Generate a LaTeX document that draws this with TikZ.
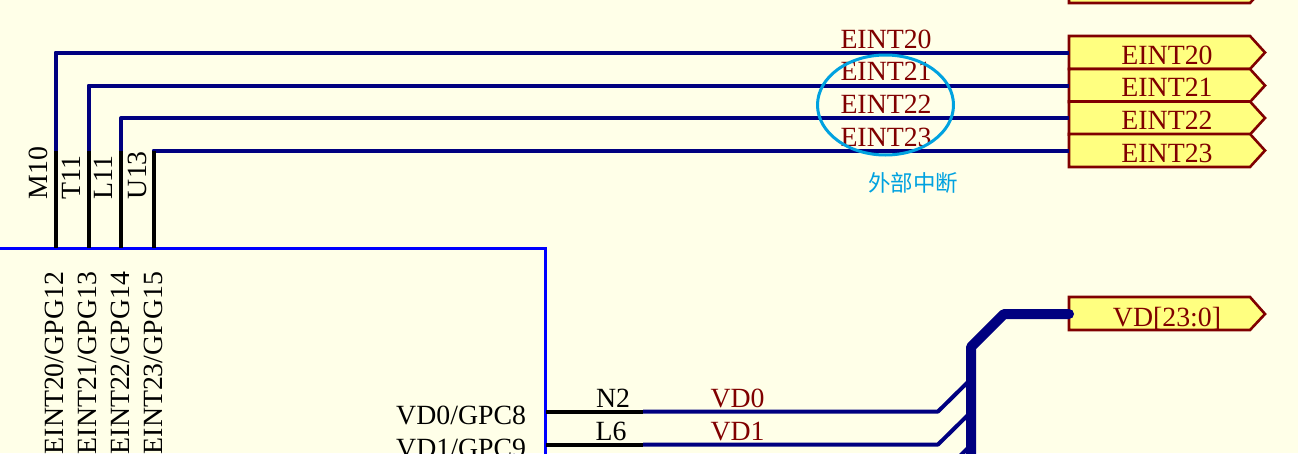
\documentclass[tikz,border=0pt]{standalone}
\usepackage{fontspec}
\setmainfont{Liberation Serif}
\newfontfamily\cjkfont{Noto Sans CJK SC}
\definecolor{bgc}{HTML}{FFFFE8}
\definecolor{wirec}{HTML}{000080}
\definecolor{boxc}{HTML}{0000FF}
\definecolor{redc}{HTML}{800000}
\definecolor{portc}{HTML}{FFFF80}
\definecolor{notec}{HTML}{00A2E0}
\tikzset{
  x=1pt,y=-1pt,
  every node/.style={inner sep=0pt,outer sep=0pt,font=\fontsize{27.8}{27.8}\selectfont},
  wire/.style={draw=wirec,line width=4pt,line join=round},
  pinline/.style={draw=black,line width=4pt},
  bus/.style={draw=wirec,line width=10pt,line cap=round,line join=round},
  chipbox/.style={draw=boxc,line width=3pt},
  portshape/.style={draw=redc,fill=portc,line width=2.6pt,line join=miter},
  netlabel/.style={text=redc,anchor=base west},
  pintext/.style={text=black,anchor=base},
  pinname/.style={text=black,anchor=base west,rotate=90},
  pindes/.style={text=black,anchor=base east,rotate=90},
  sidename/.style={text=black,anchor=base east},
  porttext/.style={text=redc,anchor=base},
  note/.style={draw=notec,line width=3pt}
}
\newcommand{\portat}[2]{% name, top y (height 33)
  \path[portshape] (1069,#2) -- (1250,#2) -- (1265,#2+16.5) -- (1250,#2+33) -- (1069,#2+33) -- cycle;
  \coordinate (#1) at (1069,#2+16.5);
}
\begin{document}
\begin{tikzpicture}
\useasboundingbox (0,0) rectangle (1298,453);
\clip (0,0) rectangle (1298,453);
\fill[bgc] (0,0) rectangle (1298,453);

% chip outline
\path[chipbox] (-5,248.5) -- (545.5,248.5) -- (545.5,460);

% ports
\portat{ptop}{-30}
\portat{p20}{36}
\portat{p21}{69}
\portat{p22}{101.5}
\portat{p23}{134}
\path[portshape] (1069,297) -- (1250,297) -- (1265,314) -- (1250,330) -- (1069,330) -- cycle;
\coordinate (pvd) at (1069,314);

% pin anchors on chip
\coordinate (c20) at (55.5,248);
\coordinate (c21) at (88.5,248);
\coordinate (c22) at (121,248);
\coordinate (c23) at (153.5,248);
\coordinate (e20) at (55.5,151);
\coordinate (e21) at (88.5,151);
\coordinate (e22) at (121,151);
\coordinate (e23) at (153.5,151);

% wires EINT
\draw[wire] (e20) |- (p20);
\draw[wire] (e21) |- (p21);
\draw[wire] (e22) |- (p22);
\draw[wire] (e23) |- (p23);
\draw[pinline] (c20) -- (e20);
\draw[pinline] (c21) -- (e21);
\draw[pinline] (c22) -- (e22);
\draw[pinline] (c23) -- (e23);

% VD wires
\coordinate (c0) at (546,411.5);
\coordinate (c1) at (546,444.5);
\coordinate (m0) at (643,411.5);
\coordinate (m1) at (643,444.5);
\coordinate (b0) at (970,380);
\coordinate (b1) at (970,413);
\coordinate (b2) at (970,446);
\coordinate (b2e) at (955,461);
\draw[wire] (m0) -- (938,411.5) -- (b0);
\draw[wire] (m1) -- (938,444.5) -- (b1);
\draw[wire] (b2) -- (b2e);
\draw[pinline] (c0) -- (m0);
\draw[pinline] (c1) -- (m1);

% bus
\coordinate (busend) at (971,470);
\draw[bus] (pvd) -- (1004,314) -- (971,347) -- (busend);

% pin labels
\node[pinname] (nM10) at (47,199) {M10};
\node[pinname] (nT11) at (80,199) {T11};
\node[pinname] (nL11) at (112,199) {L11};
\node[pinname] (nU13) at (146,199) {U13};
\node[pindes] (d20) at (63,272) {EINT20/GPG12};
\node[pindes] (d21) at (96,272) {EINT21/GPG13};
\node[pindes] (d22) at (129,272) {EINT22/GPG14};
\node[pindes] (d23) at (162,272) {EINT23/GPG15};
\node[sidename] (s0) at (526,424) {VD0/GPC8};
\node[sidename] (s1) at (526,457) {VD1/GPC9};
\node[pintext] (tN2) at (613,407) {N2};
\node[pintext] (tL6) at (611,440) {L6};

% net labels
\node[netlabel] (l0) at (710.5,407) {VD0};
\node[netlabel] (l1) at (710.5,440) {VD1};
\node[netlabel] (l20) at (840.5,48) {EINT20};
\node[netlabel] (l21) at (840.5,80.5) {EINT21};
\node[netlabel] (l22) at (840.5,113.5) {EINT22};
\node[netlabel] (l23) at (840.5,146) {EINT23};

% port labels
\node[porttext] (t20) at (1167,64) {EINT20};
\node[porttext] (t21) at (1167,96.5) {EINT21};
\node[porttext] (t22) at (1167,129) {EINT22};
\node[porttext] (t23) at (1167,162) {EINT23};
\node[porttext] (tvd) at (1167,326) {VD[23:0]};

% annotation
\draw[note] (885.5,105) ellipse [x radius=68,y radius=50];
\node[text=notec,font=\cjkfont\fontsize{22.5}{22.5}\selectfont] (cn) at (913,183) {外部中断};
\end{tikzpicture}
\end{document}
